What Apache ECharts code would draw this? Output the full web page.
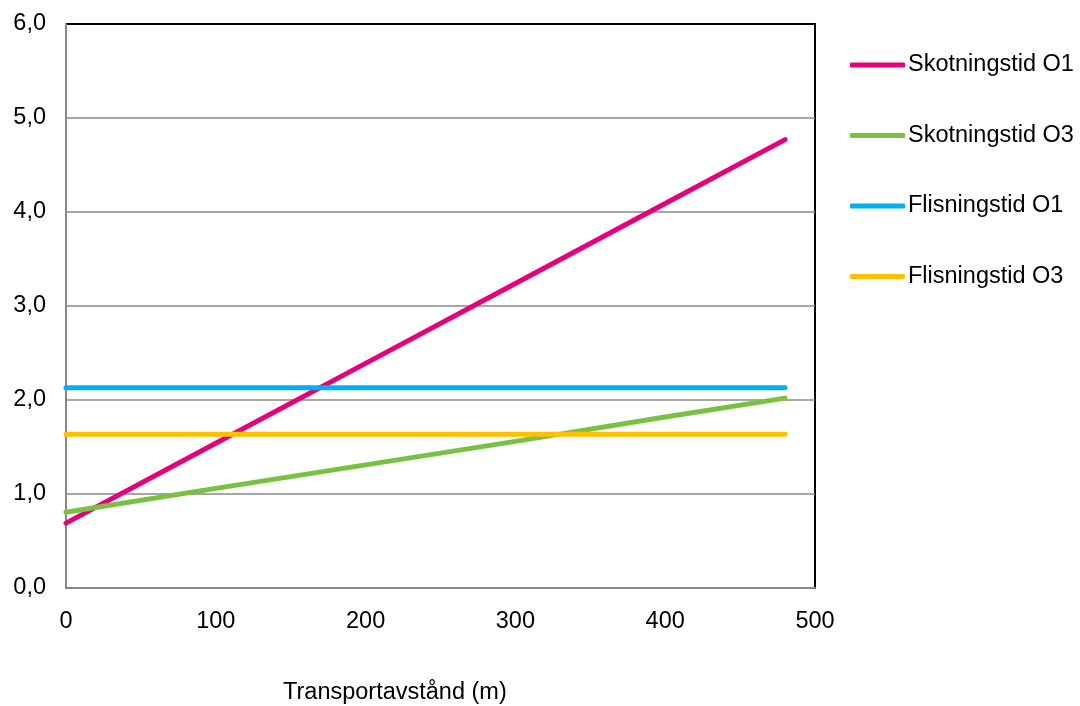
<!DOCTYPE html>
<html><head><meta charset="utf-8">
<script src="https://cdn.jsdelivr.net/npm/echarts@6/dist/echarts.min.js"></script>
<style>html,body{margin:0;padding:0;background:#fff}#c{width:1080px;height:706px}</style>
</head><body><div id="c"></div>
<script>
const xValues = [0, 100, 200, 300, 400, 480];
const skotningO1 = [0.69, 1.54, 2.39, 3.24, 4.09, 4.77];
const skotningO3 = [0.805, 1.06, 1.31, 1.56, 1.82, 2.02];
const flisningO1 = [2.13, 2.13, 2.13, 2.13, 2.13, 2.13];
const flisningO3 = [1.635, 1.635, 1.635, 1.635, 1.635, 1.635];
const seriesNames = ['Skotningstid O1', 'Skotningstid O3', 'Flisningstid O1', 'Flisningstid O3'];
const seriesColors = ['#E5007D', '#7AC143', '#00B0F0', '#FFC000'];
const xAxisTitle = 'Transportavstånd (m)';

const dataSets = [skotningO1, skotningO3, flisningO1, flisningO3];
const font = "'Liberation Sans', Arial, sans-serif";
const fs = 23.5;
const chart = echarts.init(document.getElementById('c'));
chart.setOption({
  animation: false,
  backgroundColor: '#fff',
  grid: { left: 66, top: 24, right: 265, bottom: 118, show: true, borderColor: '#000', borderWidth: 2 },
  legend: {
    orient: 'vertical', left: 845, top: 48,
    itemWidth: 55, itemHeight: 5, itemGap: 46.5,
    icon: 'roundRect',
    textStyle: { fontFamily: font, fontSize: fs, color: '#000', padding: [0, 0, 0, -2] },
    data: seriesNames
  },
  xAxis: {
    type: 'value', min: 0, max: 500, interval: 100,
    axisLine: { show: true, lineStyle: { color: '#888', width: 2 } },
    axisTick: { show: false },
    splitLine: { show: false },
    axisLabel: { fontFamily: font, fontSize: fs, color: '#000', margin: 22 }
  },
  yAxis: {
    type: 'value', min: 0, max: 6, interval: 1,
    axisLine: { show: true, lineStyle: { color: '#888', width: 2 } },
    axisTick: { show: false },
    splitLine: { showMaxLine: false, showMinLine: false, lineStyle: { color: '#888', width: 1.5 } },
    axisLabel: { fontFamily: font, fontSize: fs, color: '#000', margin: 20, padding: [0, 0, -6, 0],
      formatter: v => v.toFixed(1).replace('.', ',') }
  },
  graphic: [{ type: 'text', left: 283, top: 681,
    style: { text: xAxisTitle, font: fs + 'px ' + font, fill: '#000' } }],
  series: seriesNames.map((n, i) => ({
    name: n, type: 'line', showSymbol: false, symbol: 'none',
    color: seriesColors[i],
    lineStyle: { width: 5, color: seriesColors[i], cap: 'round' },
    data: xValues.map((x, j) => [x, dataSets[i][j]])
  }))
});
</script></body></html>
